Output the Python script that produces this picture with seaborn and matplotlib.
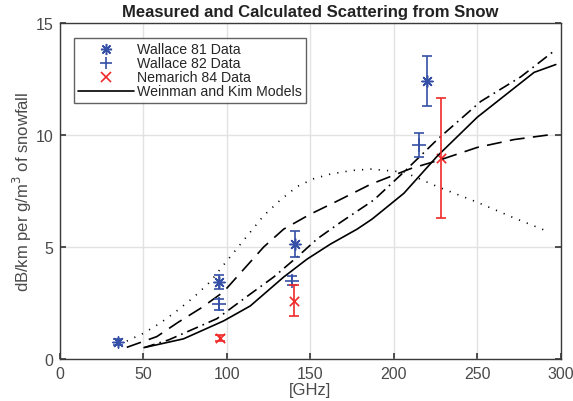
import matplotlib
matplotlib.use("Agg")
import matplotlib.pyplot as plt
import seaborn as sns
import pandas as pd
import numpy as np
from matplotlib.lines import Line2D

# ---- data ----
w81_x = [35, 95, 141, 220]
w81_y = [0.76, 3.43, 5.13, 12.4]
w81_err = [0.12, 0.32, 0.58, 1.12]

w82_x = [95, 139, 215]
w82_y = [2.45, 3.5, 9.55]
w82_err = [0.25, 0.2, 0.55]

n84_x = [96, 140, 228]
n84_y = [0.94, 2.6, 8.97]
n84_err = [0.12, 0.7, 2.67]

dot_x = [40, 50, 60, 70, 80, 90, 98, 110, 122, 132, 142, 152, 162, 175, 186, 206, 226, 250, 272, 293]
dot_y = [0.8, 1.15, 1.6, 2.15, 2.75, 3.45, 4.2, 5.3, 6.4, 7.1, 7.7, 8.05, 8.26, 8.42, 8.48, 8.35, 7.7, 7.0, 6.3, 5.67]

dash_x = [40, 58, 71, 85, 98, 110, 122, 134, 150, 166, 186, 210, 228, 250, 272, 297]
dash_y = [0.52, 1.0, 1.65, 2.3, 3.0, 4.0, 5.0, 5.8, 6.47, 7.05, 7.8, 8.5, 8.9, 9.45, 9.8, 10.05]

dd_x = [50, 65, 80, 94, 114, 128, 142, 154, 168, 188, 206, 226, 252, 276, 295]
dd_y = [0.5, 0.85, 1.34, 1.8, 2.9, 3.66, 4.55, 5.36, 6.1, 7.1, 8.35, 9.8, 11.5, 12.6, 13.7]

sol_x = [51, 74, 98, 114, 134, 148, 162, 178, 187, 206, 226, 250, 284, 297]
sol_y = [0.52, 0.9, 1.7, 2.37, 3.66, 4.46, 5.13, 5.8, 6.25, 7.4, 9.06, 10.8, 12.8, 13.15]

sns.set_theme(style="white")
plt.rcParams['font.family'] = ['Liberation Sans', 'DejaVu Sans']

fig = plt.figure(figsize=(5.73, 4.02), dpi=100)
ax = fig.add_axes([0.1047, 0.1045, 0.874, 0.8355])

blue = '#3550a6'
red = '#f02a2a'
spine_c = '#3a3a3a'

# model lines
lw = 1.2
sns.lineplot(x=dot_x, y=dot_y, ax=ax, color='black', lw=lw, linestyle=(0, (0.7, 4.3)), sort=False)
sns.lineplot(x=dash_x, y=dash_y, ax=ax, color='black', lw=lw, linestyle=(0, (9, 5)), sort=False)
sns.lineplot(x=dd_x, y=dd_y, ax=ax, color='black', lw=lw, linestyle=(0, (7, 3, 1, 3)), sort=False)
sns.lineplot(x=sol_x, y=sol_y, ax=ax, color='black', lw=lw, linestyle='-', sort=False)

star = (8, 2, 0)
ew = 1.2
ax.errorbar(w81_x, w81_y, yerr=w81_err, fmt='none', ecolor=blue, elinewidth=ew, capsize=3.5, capthick=ew)
sns.scatterplot(x=w81_x, y=w81_y, ax=ax, marker=star, s=65, color=blue, edgecolor=blue, linewidth=1.1)
ax.errorbar(w82_x, w82_y, yerr=w82_err, fmt='none', ecolor=blue, elinewidth=ew, capsize=3.5, capthick=ew)
sns.scatterplot(x=w82_x, y=w82_y, ax=ax, marker='+', s=90, color=blue, linewidth=1.2)
ax.errorbar(n84_x, n84_y, yerr=n84_err, fmt='none', ecolor=red, elinewidth=ew, capsize=3.5, capthick=ew)
sns.scatterplot(x=n84_x, y=n84_y, ax=ax, marker='x', s=45, color=red, linewidth=1.2)

ax.set_xlim(0, 300)
ax.set_ylim(0, 15)
ax.set_xticks([0, 50, 100, 150, 200, 250, 300])
ax.set_yticks([0, 5, 10, 15])
ax.grid(True, color='#e2e2e2', linewidth=1.0)
ax.set_axisbelow(True)
for s in ax.spines.values():
    s.set_visible(True)
    s.set_color(spine_c)
    s.set_linewidth(1.0)
ax.tick_params(axis='both', direction='in', length=4, color=spine_c, labelsize=11.5,
               labelcolor='#4a4a4a', bottom=True, left=True, top=False, right=True, pad=5)
ax.tick_params(axis='y', labelright=False)

ax.set_xlabel('[GHz]', fontsize=12, color='#4a4a4a', labelpad=1)
ax.set_ylabel('dB/km per g/m$^3$ of snowfall', fontsize=12, color='#4a4a4a', labelpad=1)
ax.set_title('Measured and Calculated Scattering from Snow', fontsize=12, fontweight='bold',
             color='#222222', pad=5)

handles = [
    Line2D([], [], color=blue, marker=star, linestyle='none', markersize=8, markeredgewidth=1.1),
    Line2D([], [], color=blue, marker='+', linestyle='none', markersize=9, markeredgewidth=1.2),
    Line2D([], [], color=red, marker='x', linestyle='none', markersize=6.5, markeredgewidth=1.2),
    Line2D([], [], color='black', linestyle='-', lw=1.2),
]
labels = ['Wallace 81 Data', 'Wallace 82 Data', 'Nemarich 84 Data', 'Weinman and Kim Models']
leg = ax.legend(handles, labels, loc='upper left', bbox_to_anchor=(0.027, 0.955), fontsize=10.2,
                frameon=True, fancybox=False, edgecolor=spine_c, handlelength=4.0,
                handletextpad=0.2, labelspacing=0.0, borderpad=0.3, borderaxespad=0)
leg.get_frame().set_linewidth(1.0)

fig.savefig('out.png', dpi=100)
